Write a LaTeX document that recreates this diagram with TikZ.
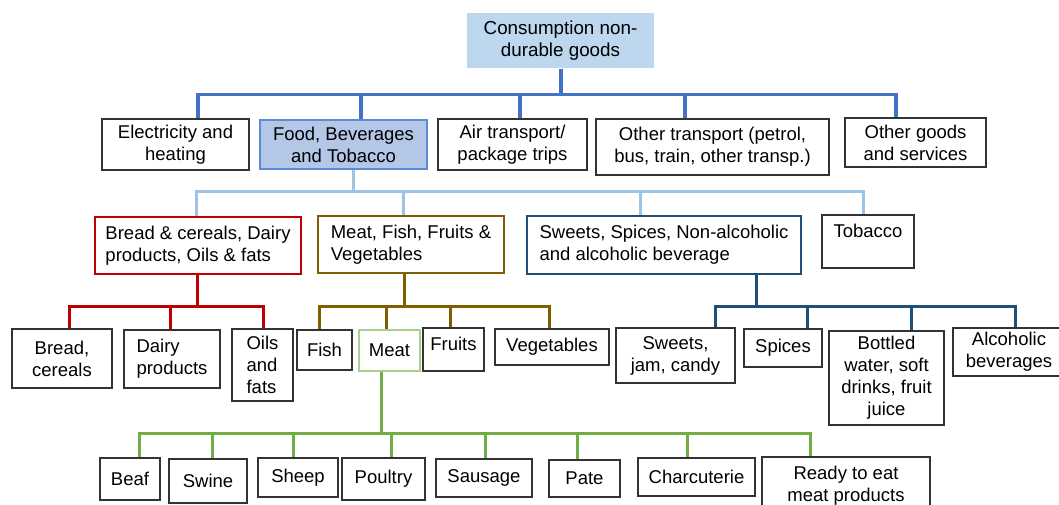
\documentclass[tikz,border=0pt]{standalone}
\usepackage{fontspec}
\setmainfont{Liberation Sans}
\definecolor{cA}{HTML}{4472C4}
\definecolor{cB}{HTML}{9DC3E6}
\definecolor{cRed}{HTML}{C00000}
\definecolor{cBrown}{HTML}{7F6000}
\definecolor{cNavy}{HTML}{1F4E79}
\definecolor{cGreen}{HTML}{70AD47}
\definecolor{cLightGreen}{HTML}{A9D18E}
\definecolor{rootFill}{HTML}{BDD7EE}
\definecolor{foodFill}{HTML}{B4C7E7}
\definecolor{foodLine}{HTML}{5B8BD6}
\tikzset{
  box/.style={draw=black!80, line width=1.1pt, inner sep=2pt, align=center,
    font=\fontsize{18.5}{22}\selectfont},
  rootbox/.style={draw=none, fill=rootFill, font=\fontsize{18.8}{22}\selectfont},
  foodbox/.style={draw=foodLine, fill=foodFill},
  redbox/.style={draw=cRed},
  brownbox/.style={draw=cBrown, line width=1.6pt},
  navybox/.style={draw=cNavy},
  greenbox/.style={draw=cLightGreen},
  conA/.style={draw=cA, line width=3.2pt},
  conB/.style={draw=cB, line width=3pt},
  conRed/.style={draw=cRed, line width=3pt},
  conBrown/.style={draw=cBrown, line width=3pt},
  conNavy/.style={draw=cNavy, line width=3pt},
  conGreen/.style={draw=cGreen, line width=3pt},
}
\newcommand\bx[7]{\node[box,#6,minimum width={#4-#2},minimum height={#5-#3}] (#1) at ({(#2+#4)/2},{(#3+#5)/2}) {#7};}
\newcommand\conn[6]{\draw[#1] ([xshift=#3]#2.south) -- ++(0,#4) -| ([xshift=#6]#5.north);}
\begin{document}
\begin{tikzpicture}[x=1pt,y=-1pt]
\useasboundingbox (0,0) rectangle (1059,505);
% level 0
\bx{root}{467}{13}{654}{68}{rootbox}{Consumption non-\\durable goods}
% level 1
\bx{elec}{102}{119}{249}{170}{}{Electricity and\\heating}
\bx{food}{260}{120}{427}{169}{foodbox}{Food, Beverages\\and Tobacco}
\bx{air}{438}{119}{587}{170}{}{Air transport/\\package trips}
\bx{otr}{596}{119}{829}{175}{}{Other transport (petrol,\\bus, train, other transp.)}
\bx{goods}{845}{118}{986}{167}{}{Other goods\\and services}
% level 2
\bx{bread}{95}{217}{301}{274}{redbox,align=left}{Bread \& cereals, Dairy\\products, Oils \& fats}
\bx{mfish}{318}{216}{504}{273}{brownbox,align=left}{Meat, Fish, Fruits \&\\Vegetables}
\bx{sweets}{527}{216}{801}{274}{navybox,align=left}{Sweets, Spices, Non-alcoholic\\and alcoholic beverage}
\bx{tob}{822}{215}{914}{268}{text depth=22pt}{Tobacco}
% level 3
\bx{brc}{12}{329}{112}{388}{}{Bread,\\cereals}
\bx{dairy}{124}{330}{220}{388}{align=left}{Dairy\\products}
\bx{oils}{232}{329}{293}{401}{align=left}{Oils\\and\\fats}
\bx{fish}{297}{330}{352}{370}{}{Fish}
\bx{meat}{359}{330}{420}{371}{greenbox}{Meat}
\bx{fruits}{423}{328}{484}{371}{text depth=12pt}{Fruits}
\bx{veg}{495}{329}{609}{365}{}{Vegetables}
\bx{sjc}{616}{328}{735}{383}{}{Sweets,\\jam, candy}
\bx{spices}{744}{329}{822}{367}{}{Spices}
\bx{bottled}{829}{331}{944}{425}{}{Bottled\\water, soft\\drinks, fruit\\juice}
\bx{alco}{953}{328}{1065}{376}{}{Alcoholic\\beverages}
% level 4
\bx{beaf}{100}{458}{160}{500}{}{Beaf}
\bx{swine}{169}{459}{247}{503}{}{Swine}
\bx{sheep}{258}{458}{338}{497}{}{Sheep}
\bx{poultry}{342}{458}{425}{500}{}{Poultry}
\bx{sausage}{436}{459}{532}{497}{}{Sausage}
\bx{pate}{549}{460}{620}{497}{}{Pate}
\bx{charc}{638}{458}{755}{496}{}{Charcuterie}
\bx{ready}{762}{457}{930}{515}{}{Ready to eat\\meat products}
% connectors
\conn{conA}{root}{0.5}{26}{elec}{22.5}
\conn{conA}{root}{0.5}{26}{food}{17.5}
\conn{conA}{root}{0.5}{26}{air}{7.5}
\conn{conA}{root}{0.5}{26}{otr}{-27.5}
\conn{conA}{root}{0.5}{26}{goods}{-19.5}
\conn{conB}{food}{9.5}{22}{bread}{-2}
\conn{conB}{food}{9.5}{22}{mfish}{-8}
\conn{conB}{food}{9.5}{22}{sweets}{-24}
\conn{conB}{food}{9.5}{22}{tob}{-5}
\conn{conRed}{bread}{-1}{32}{brc}{7}
\conn{conRed}{bread}{-1}{32}{dairy}{-2}
\conn{conRed}{bread}{-1}{32}{oils}{0.5}
\conn{conBrown}{mfish}{-7}{33}{fish}{-5.5}
\conn{conBrown}{mfish}{-7}{33}{meat}{-3.5}
\conn{conBrown}{mfish}{-7}{33}{fruits}{-3.5}
\conn{conBrown}{mfish}{-7}{33}{veg}{-3}
\conn{conNavy}{sweets}{92}{32}{sjc}{39.5}
\conn{conNavy}{sweets}{92}{32}{spices}{24}
\conn{conNavy}{sweets}{92}{32}{bottled}{24.5}
\conn{conNavy}{sweets}{92}{32}{alco}{6}
\conn{conGreen}{meat}{-8.5}{62}{beaf}{9}
\conn{conGreen}{meat}{-8.5}{62}{swine}{4}
\conn{conGreen}{meat}{-8.5}{62}{sheep}{-5}
\conn{conGreen}{meat}{-8.5}{62}{poultry}{7.5}
\conn{conGreen}{meat}{-8.5}{62}{sausage}{1}
\conn{conGreen}{meat}{-8.5}{62}{pate}{-7.5}
\conn{conGreen}{meat}{-8.5}{62}{charc}{-9.5}
\conn{conGreen}{meat}{-8.5}{62}{ready}{-36}
\end{tikzpicture}
\end{document}
